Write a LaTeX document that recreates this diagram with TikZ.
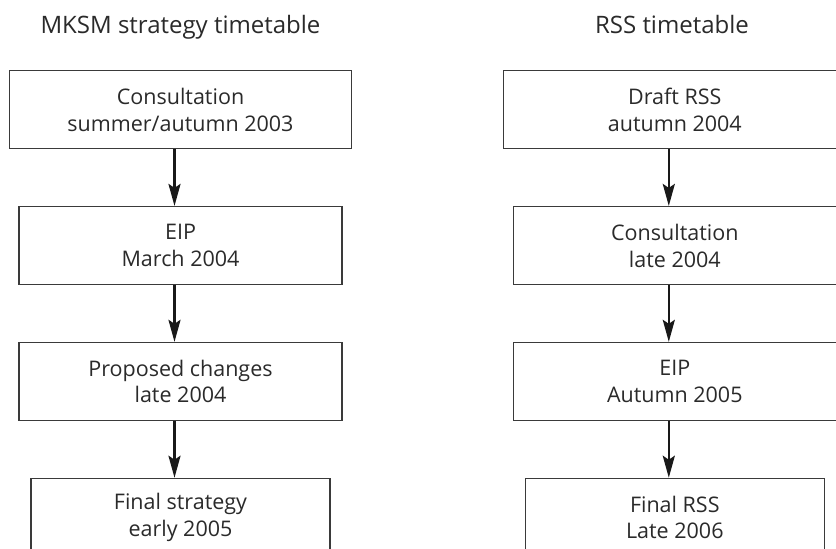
\documentclass[tikz,border=0pt]{standalone}
\usepackage{fontspec}
\setmainfont{Open Sans}
\usetikzlibrary{positioning,arrows.meta}
\definecolor{boxline}{HTML}{3A3A3A}
\definecolor{ink}{HTML}{2A2A2A}

\begin{document}
\begin{tikzpicture}[x=1pt,y=-1pt,
        stage/.style={draw=boxline, line width=1.3pt, text=ink, align=center,
            minimum height=78pt, inner sep=0pt,
            font=\fontsize{21.5}{26.7}\selectfont},
        heading/.style={text=ink, anchor=base, font=\fontsize{24}{28}\selectfont},
        flow/.style={line width=2.6pt, draw=black!90,
            -{Stealth[length=22pt,width=12pt,inset=4pt]}}]
        \useasboundingbox (0,0) rectangle (836,549);
        \clip (0,0) rectangle (836,549);

        % left column
        \node[heading] (mhead) at (180.5,33) {MKSM strategy timetable};
        \node[stage, minimum width=342pt] (m1) at (180.5,109.7)
            {Consultation\\summer/autumn 2003};
        \node[stage, minimum width=323pt, below=56.6pt of m1] (m2)
            {EIP\\March 2004};
        \node[stage, minimum width=323pt, below=56.6pt of m2] (m3)
            {Proposed changes\\late 2004};
        \node[stage, minimum width=299pt, below=56.6pt of m3] (m4)
            {Final strategy\\early 2005};

        % right column
        \node[heading] (rhead) at (672,33) {RSS timetable};
        \node[stage, minimum width=342pt] (r1) at (674.8,109.7)
            {Draft RSS\\autumn 2004};
        \node[stage, minimum width=323pt, below=56.6pt of r1] (r2)
            {Consultation\\late 2004};
        \node[stage, minimum width=323pt, below=56.6pt of r2] (r3)
            {EIP\\Autumn 2005};
        \node[stage, minimum width=299pt, below=56.6pt of r3] (r4)
            {Final RSS\\Late 2006};

        % arrows
        \foreach \c in {m,r}{
            \draw[flow] ([xshift=-6pt]\c1.south) -- ([xshift=-6pt]\c2.north);
            \draw[flow] ([xshift=-6pt]\c2.south) -- ([xshift=-6pt]\c3.north);
            \draw[flow] ([xshift=-6pt]\c3.south) -- ([xshift=-6pt]\c4.north);
        }
\end{tikzpicture}
\end{document}
